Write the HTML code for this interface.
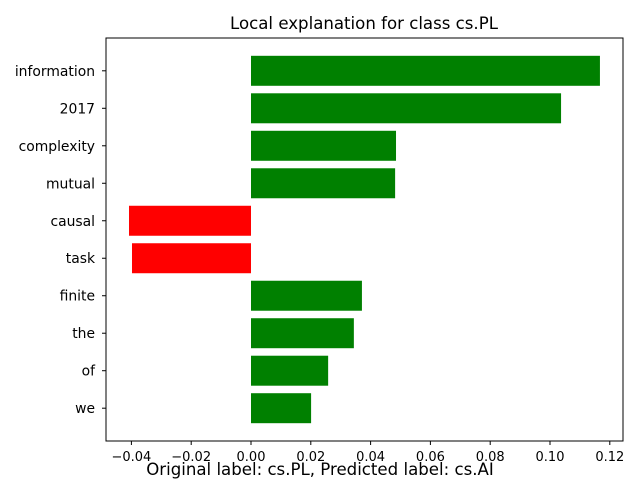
<!DOCTYPE html>
<html><head><meta charset="utf-8"><style>
body{margin:0;background:#fff;}
svg{display:block;font-family:"DejaVu Sans","Liberation Sans",sans-serif;}
</style></head><body>
<svg id="chart" width="640" height="480">
<rect width="640" height="480" fill="#fff"/>
<text x="364" y="29" text-anchor="middle" font-size="16.6" fill="#000">Local explanation for class cs.PL</text>
<g id="bars"></g>
<g id="xticks"></g>
<g id="yticks"></g>
<rect x="106" y="38" width="517" height="403" fill="none" stroke="#000" stroke-width="1"/>
<text x="320" y="475" text-anchor="middle" font-size="16.6" fill="#000">Original label: cs.PL, Predicted label: cs.AI</text>
</svg>
<script>
const categories=["information","2017","complexity","mutual","causal","task","finite","the","of","we"];
const values=[0.1167,0.1037,0.0485,0.0482,-0.0408,-0.0398,0.0371,0.0344,0.0258,0.0201];
const xTicks=[-0.04,-0.02,0,0.02,0.04,0.06,0.08,0.10,0.12];
const xTickLabels=["−0.04","−0.02","0.00","0.02","0.04","0.06","0.08","0.10","0.12"];
const NS="http://www.w3.org/2000/svg";
function xs(v){return 251+v*2990;}
const nCat=categories.length;
const yMin=-0.875,yMax=nCat-1+0.875,axTop=38,axBot=441;
function ys(i){return axTop+(yMax-i)*(axBot-axTop)/(yMax-yMin);}
const step=(axBot-axTop)/(yMax-yMin);
const gb=document.getElementById('bars'),gx=document.getElementById('xticks'),gy=document.getElementById('yticks');
function mk(t,a){const e=document.createElementNS(NS,t);for(const k in a)e.setAttribute(k,a[k]);return e;}
categories.forEach((c,k)=>{
  const i=nCat-1-k; const v=values[k]; const cy=ys(i);
  const x0=Math.min(xs(0),xs(v)),w=Math.abs(xs(v)-xs(0));
  const r=mk('rect',{x:x0,y:cy-0.4*step,width:w,height:0.8*step,fill:v>=0?'#008000':'#ff0000'});
  
  
  gb.appendChild(r);
  const tl=mk('line',{x1:106,x2:102,y1:cy,y2:cy,stroke:'#000'});
  gy.appendChild(tl);
  const t=mk('text',{x:95,y:cy+5,'text-anchor':'end','font-size':'13.9'});
  t.textContent=c;
  
  
  gy.appendChild(t);
});
xTicks.forEach((v,k)=>{
  const x=xs(v);
  gx.appendChild(mk('line',{x1:x,x2:x,y1:441,y2:445,stroke:'#000'}));
  const t=mk('text',{x:x,y:461,'text-anchor':'middle','font-size':'13'});
  t.textContent=xTickLabels[k];
  
  
  gx.appendChild(t);
});
</script>
</body></html>
